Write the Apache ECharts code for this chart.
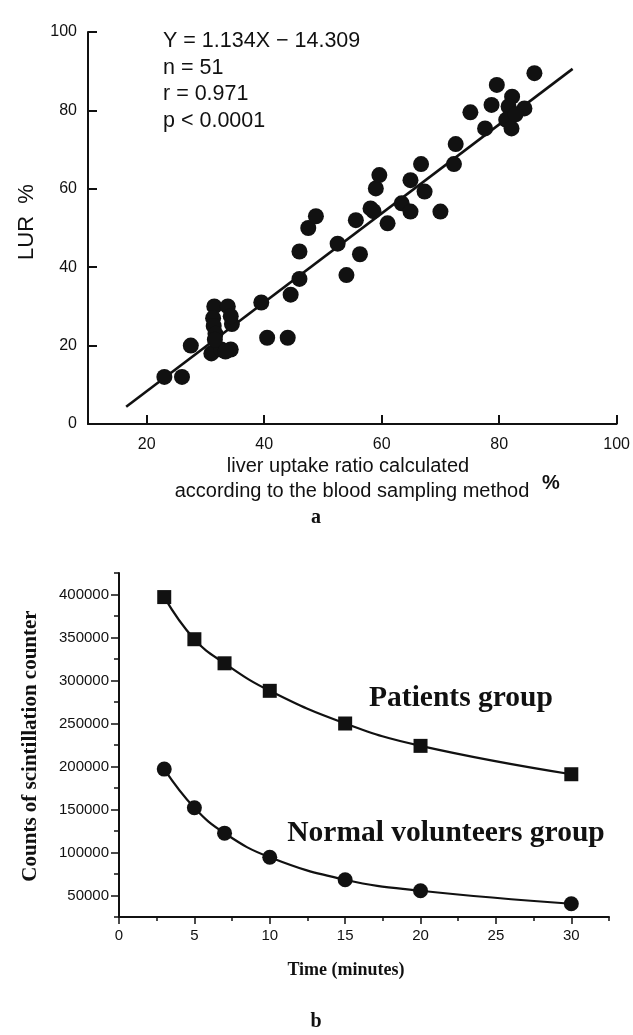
<!DOCTYPE html>
<html>
<head>
<meta charset="utf-8">
<script src="https://cdn.jsdelivr.net/npm/echarts@6/dist/echarts.min.js"></script>
<style>
html,body{margin:0;padding:0;background:#ffffff;}
#chart{width:633px;height:1035px;}
</style>
</head>
<body>
<div id="chart"></div>
<script>
// ---------- Panel a data ----------
const bloodSamplingX = [23, 26, 27.5, 31, 32.7, 34.3, 31.5, 33.8, 31.3, 31.4, 31.7, 34.5, 34.3,
  39.5, 40.5, 44, 44.5, 46, 46, 47.5, 48.8, 52.5, 54, 55.6, 56.3, 58.1, 59, 59.6, 61, 63.4,
  64.9, 64.9, 66.7, 67.3, 70, 72.3, 72.6, 75.1, 77.6, 78.7, 79.6, 82.2, 81.6, 84.3, 81.2,
  82.1, 86, 58.6, 31.6, 33.4, 82.8];
const lurY = [12, 12, 20, 18, 19, 19, 30, 30, 27, 25, 23, 25.5, 27.5,
  31, 22, 22, 33, 37, 44, 50, 53, 46, 38, 52, 43.3, 55, 60.1, 63.5, 51.2, 56.3,
  54.2, 62.2, 66.3, 59.3, 54.2, 66.3, 71.4, 79.5, 75.4, 81.4, 86.5, 83.5, 81, 80.5, 77.6,
  75.4, 89.5, 54.3, 21.5, 18.5, 79];
const fitLineX = [16.5, 92.5];
const fitLineY = [4.4, 90.6];
const aXTicks = [20, 40, 60, 80, 100];
const eqLines = ['Y = 1.134X \u2212 14.309', 'n = 51', 'r = 0.971', 'p < 0.0001'];

// ---------- Panel b data ----------
const timeMinutes = [3, 5, 7, 10, 15, 20, 30];
const patientsCounts = [397000, 348000, 320000, 288000, 250000, 224000, 191000];
const normalCounts = [197000, 152000, 122500, 94500, 68300, 55500, 40400];
const bYLabels = [50000, 100000, 150000, 200000, 250000, 300000, 350000, 400000];
const bXLabels = [0, 5, 10, 15, 20, 25, 30];

const ink = '#111111';
const sans = 'Liberation Sans, Arial, sans-serif';
const serif = 'Liberation Serif, Times New Roman, serif';

const scatterData = bloodSamplingX.map((x, i) => [x, lurY[i]]);
const fitData = fitLineX.map((x, i) => [x, fitLineY[i]]);
const patientsData = timeMinutes.map((t, i) => [t, patientsCounts[i]]);
const normalData = timeMinutes.map((t, i) => [t, normalCounts[i]]);

const chart = echarts.init(document.getElementById('chart'), null, {renderer: 'canvas'});

const eqGraphics = eqLines.map((s, i) => ({
  type: 'text', x: 163, y: 41 + i * 26.7,
  style: {text: s, font: '21.5px ' + sans, fill: ink, align: 'left', verticalAlign: 'middle'}
}));

const option = {
  backgroundColor: '#ffffff',
  animation: false,
  grid: [
    {left: 88, top: 32, width: 537, height: 392},
    {left: 119, top: 573, width: 490, height: 344}
  ],
  xAxis: [
    {
      gridIndex: 0, type: 'value', min: 10, max: 100,
      axisLine: {show: true, lineStyle: {color: ink, width: 2}},
      axisTick: {show: true, inside: true, length: 9, customValues: aXTicks, lineStyle: {color: ink, width: 2}},
      axisLabel: {show: true, customValues: aXTicks, color: ink, fontSize: 16, fontFamily: sans, margin: 13},
      splitLine: {show: false}
    },
    {
      gridIndex: 1, type: 'value', min: 0, max: 32.5, interval: 2.5,
      axisLine: {show: true, lineStyle: {color: ink, width: 2}},
      axisTick: {show: true, inside: false, length: 4, lineStyle: {color: ink, width: 1.5}},
      axisLabel: {show: false},
      splitLine: {show: false}
    },
    {
      gridIndex: 1, type: 'value', min: 0, max: 32.5, position: 'bottom',
      axisLine: {show: false},
      axisTick: {show: true, inside: false, length: 7, customValues: bXLabels, lineStyle: {color: ink, width: 1.5}},
      axisLabel: {show: true, customValues: bXLabels, color: ink, fontSize: 15, fontFamily: sans, margin: 11},
      splitLine: {show: false}
    }
  ],
  yAxis: [
    {
      gridIndex: 0, type: 'value', min: 0, max: 100, interval: 20,
      axisLine: {show: true, lineStyle: {color: ink, width: 2}},
      axisTick: {show: true, inside: true, length: 9, lineStyle: {color: ink, width: 2}},
      axisLabel: {color: ink, fontSize: 16, fontFamily: sans, margin: 11},
      splitLine: {show: false}
    },
    {
      gridIndex: 1, type: 'value', min: 25000, max: 425000, interval: 25000,
      axisLine: {show: true, lineStyle: {color: ink, width: 2}},
      axisTick: {show: true, inside: false, length: 5, lineStyle: {color: ink, width: 1.5}},
      axisLabel: {show: false},
      splitLine: {show: false}
    },
    {
      gridIndex: 1, type: 'value', min: 25000, max: 425000, position: 'left',
      axisLine: {show: false},
      axisTick: {show: true, inside: false, length: 8, customValues: bYLabels, lineStyle: {color: ink, width: 1.5}},
      axisLabel: {show: true, customValues: bYLabels, color: ink, fontSize: 15, fontFamily: sans, margin: 10,
        formatter: v => String(Math.round(v))},
      splitLine: {show: false}
    }
  ],
  series: [
    {
      type: 'line', xAxisIndex: 0, yAxisIndex: 0, data: fitData,
      showSymbol: false, symbol: 'none', lineStyle: {color: ink, width: 2.6}, z: 2
    },
    {
      type: 'scatter', xAxisIndex: 0, yAxisIndex: 0, data: scatterData,
      symbol: 'circle', symbolSize: 16, itemStyle: {color: ink, opacity: 1}, z: 3
    },
    {
      type: 'line', xAxisIndex: 1, yAxisIndex: 1, data: patientsData, smooth: 0.45,
      symbol: 'rect', symbolSize: 14, showAllSymbol: true,
      itemStyle: {color: ink}, lineStyle: {color: ink, width: 2.2}, z: 3
    },
    {
      type: 'line', xAxisIndex: 1, yAxisIndex: 1, data: normalData, smooth: 0.45,
      symbol: 'circle', symbolSize: 15, showAllSymbol: true,
      itemStyle: {color: ink}, lineStyle: {color: ink, width: 2.2}, z: 3
    }
  ],
  graphic: eqGraphics.concat([
    {type: 'text', x: 27, y: 222, rotation: Math.PI / 2,
      style: {text: 'LUR  %', font: '22px ' + sans, fill: ink, align: 'center', verticalAlign: 'middle'}},
    {type: 'text', x: 348, y: 466,
      style: {text: 'liver uptake ratio calculated', font: '20px ' + sans, fill: ink, align: 'center', verticalAlign: 'middle'}},
    {type: 'text', x: 352, y: 491,
      style: {text: 'according to the blood sampling method', font: '20px ' + sans, fill: ink, align: 'center', verticalAlign: 'middle'}},
    {type: 'text', x: 551, y: 483,
      style: {text: '%', font: 'bold 20px ' + sans, fill: ink, align: 'center', verticalAlign: 'middle'}},
    {type: 'text', x: 316, y: 518,
      style: {text: 'a', font: 'bold 20px ' + serif, fill: ink, align: 'center', verticalAlign: 'middle'}},
    {type: 'text', x: 31, y: 746, rotation: Math.PI / 2,
      style: {text: 'Counts of scintillation counter', font: 'bold 21px ' + serif, fill: ink, align: 'center', verticalAlign: 'middle'}},
    {type: 'text', x: 461, y: 698,
      style: {text: 'Patients group', font: 'bold 29.5px ' + serif, fill: ink, align: 'center', verticalAlign: 'middle'}},
    {type: 'text', x: 446, y: 833,
      style: {text: 'Normal volunteers group', font: 'bold 29.5px ' + serif, fill: ink, align: 'center', verticalAlign: 'middle'}},
    {type: 'text', x: 346, y: 970,
      style: {text: 'Time (minutes)', font: 'bold 18px ' + serif, fill: ink, align: 'center', verticalAlign: 'middle'}},
    {type: 'text', x: 316, y: 1022,
      style: {text: 'b', font: 'bold 20px ' + serif, fill: ink, align: 'center', verticalAlign: 'middle'}}
  ])
};
chart.setOption(option);
</script>
</body>
</html>
